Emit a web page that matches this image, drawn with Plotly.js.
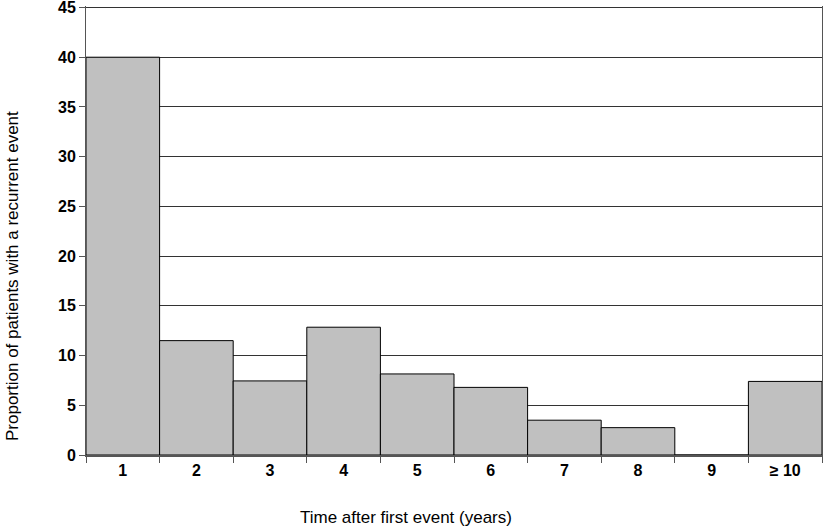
<!DOCTYPE html>
<html>
<head>
<meta charset="utf-8">
<script src="https://cdn.plot.ly/plotly-3.0.1.min.js"></script>
<style>html,body{margin:0;padding:0;background:#fff;}#chart{width:825px;height:530px;}</style>
</head>
<body>
<div id="chart"></div>
<script>
const categories = ["1", "2", "3", "4", "5", "6", "7", "8", "9", "≥ 10"];
const proportions = [40, 11.5, 7.45, 12.85, 8.15, 6.8, 3.5, 2.75, 0, 7.4];
const yTicks = [0, 5, 10, 15, 20, 25, 30, 35, 40, 45];
const xTitle = "Time after first event (years)";
const yTitle = "Proportion of patients with a recurrent event";

const FONT = "Liberation Sans, Arial, sans-serif";

const trace = {
  type: "bar",
  x: categories,
  y: proportions,
  marker: { color: "#c0c0c0", line: { color: "#000", width: 1 } },
  hoverinfo: "x+y"
};

const PH = 449; // plot height in px
const layout = {
  width: 825, height: 530,
  margin: { l: 86, r: 3, t: 6, b: 75 },
  paper_bgcolor: "#fff", plot_bgcolor: "#fff",
  bargap: 0,
  showlegend: false,
  font: { family: FONT, color: "#000" },
  xaxis: {
    type: "category",
    tickson: "boundaries",
    ticks: "outside", ticklen: 6, tickcolor: "#555", tickwidth: 1,
    showline: true, linecolor: "#555", linewidth: 2,
    showgrid: false,
    tickfont: { size: 16, family: FONT, weight: "bold" }
  },
  yaxis: {
    range: [0, 45.15],
    tickvals: yTicks,
    ticklabeloverflow: "allow",
    ticks: "outside", ticklen: 6, tickcolor: "#555", tickwidth: 1,
    showline: true, linecolor: "#555", linewidth: 1, mirror: true,
    showgrid: true, gridcolor: "#333", gridwidth: 1,
    zeroline: false,
    tickfont: { size: 16, family: FONT, weight: "bold" }
  },
  annotations: [
    { text: xTitle, xref: "paper", yref: "paper", x: (406 - 86) / (825 - 89), y: (455 - 517) / PH,
      xanchor: "center", yanchor: "middle", showarrow: false, font: { size: 17, family: FONT } },
    { text: yTitle, xref: "paper", yref: "paper", x: (12 - 86) / (825 - 89), y: (455 - 276) / PH,
      xanchor: "center", yanchor: "middle", textangle: -90, showarrow: false, font: { size: 17, family: FONT } }
  ]
};

Plotly.newPlot("chart", [trace], layout, { displayModeBar: false, staticPlot: true });
</script>
</body>
</html>
